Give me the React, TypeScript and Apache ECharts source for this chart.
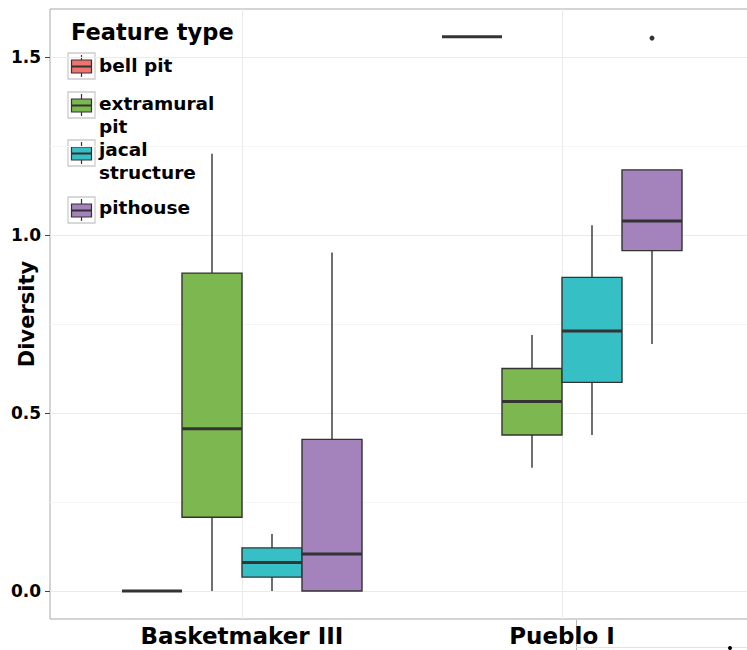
import React, { useEffect, useRef } from "react";
import * as echarts from "echarts";

// Eras on the x axis and feature types used for the dodged boxes
const eras = ["Basketmaker III", "Pueblo I"];
const features = ["bell pit", "extramural pit", "jacal structure", "pithouse"];
const legendLabels = ["bell pit", "extramural\npit", "jacal\nstructure", "pithouse"];
const colors = ["#f0736e", "#7db74f", "#37bfc6", "#a482bb"];

// Five-number summaries per era: [lower whisker, Q1, median, Q3, upper whisker]
const bellPit = [
  [0, 0, 0, 0, 0],
  [1.557, 1.557, 1.557, 1.557, 1.557],
];
const extramuralPit = [
  [0, 0.207, 0.456, 0.893, 1.228],
  [0.346, 0.438, 0.532, 0.625, 0.719],
];
const jacalStructure = [
  [0, 0.039, 0.08, 0.121, 0.16],
  [0.438, 0.586, 0.73, 0.881, 1.027],
];
const pithouse = [
  [0, 0, 0.104, 0.426, 0.951],
  [0.694, 0.956, 1.039, 1.183, 1.183],
];
// Outlying points per era for pithouse
const pithouseOutliers = [[], [1.553]];

const yTicks = [0, 0.5, 1, 1.5];
const yMinorTicks = [0.25, 0.75, 1.25];

const stats = [bellPit, extramuralPit, jacalStructure, pithouse];

const FONT = "DejaVu Sans";
const DODGE_WIDTH = 0.75;
const SLOT = DODGE_WIDTH / features.length;
const Y_MIN = -0.0787;
const Y_MAX = 1.6348;

function dodgeX(eraPos: number, k: number) {
  return eraPos - DODGE_WIDTH / 2 + SLOT * (k + 0.5);
}

function makeRenderItem(k: number) {
  return (params: any, api: any) => {
    const cx = dodgeX(api.value(0), k);
    const xl = api.coord([cx - SLOT / 2, 0])[0];
    const xr = api.coord([cx + SLOT / 2, 0])[0];
    const xc = api.coord([cx, 0])[0];
    const yMin = api.coord([cx, api.value(1)])[1];
    const yQ1 = api.coord([cx, api.value(2)])[1];
    const yMed = api.coord([cx, api.value(3)])[1];
    const yQ3 = api.coord([cx, api.value(4)])[1];
    const yMax = api.coord([cx, api.value(5)])[1];
    const edge = { stroke: "#333333", lineWidth: 1.4 };
    return {
      type: "group",
      children: [
        { type: "line", shape: { x1: xc, y1: yMax, x2: xc, y2: yQ3 }, style: edge },
        { type: "line", shape: { x1: xc, y1: yQ1, x2: xc, y2: yMin }, style: edge },
        {
          type: "rect",
          shape: { x: xl, y: yQ3, width: xr - xl, height: yQ1 - yQ3 },
          style: { fill: colors[k], ...edge },
        },
        {
          type: "line",
          shape: { x1: xl, y1: yMed, x2: xr, y2: yMed },
          style: { stroke: "#333333", lineWidth: 3 },
        },
      ],
    };
  };
}

// Legend drawn as graphic elements: small boxplot keys plus wrapped labels
const LEGEND_TEXT_TOP = [53.5, 91.5, 137.5, 195.5];
const LEGEND_KEY_TOP = [53, 92, 140, 197];

function legendGraphics() {
  const els: any[] = [
    {
      type: "text",
      x: 71,
      y: 32,
      z: 10,
      style: {
        text: "Feature type",
        fontFamily: FONT,
        fontWeight: "bold",
        fontSize: 22.5,
        fill: "#000",
        verticalAlign: "middle",
      },
    },
  ];
  features.forEach((f, k) => {
    els.push({
      type: "group",
      x: 68,
      y: LEGEND_KEY_TOP[k],
      z: 10,
      children: [
        {
          type: "rect",
          shape: { x: 0, y: 0, width: 27, height: 26 },
          style: { fill: "#ffffff", stroke: "#cccccc", lineWidth: 1.3 },
        },
        { type: "line", shape: { x1: 13.5, y1: 2, x2: 13.5, y2: 7 }, style: { stroke: "#333", lineWidth: 1.2 } },
        { type: "line", shape: { x1: 13.5, y1: 20, x2: 13.5, y2: 24 }, style: { stroke: "#333", lineWidth: 1.2 } },
        {
          type: "rect",
          shape: { x: 3.5, y: 7, width: 20, height: 13 },
          style: { fill: colors[k], stroke: "#333", lineWidth: 1.2 },
        },
        { type: "line", shape: { x1: 3.5, y1: 13.5, x2: 23.5, y2: 13.5 }, style: { stroke: "#333", lineWidth: 2 } },
      ],
    });
    els.push({
      type: "text",
      x: 99,
      y: LEGEND_TEXT_TOP[k],
      z: 10,
      style: {
        text: legendLabels[k],
        fontFamily: FONT,
        fontWeight: "bold",
        fontSize: 18.5,
        lineHeight: 23,
        fill: "#000",
        verticalAlign: "top",
      },
    });
  });
  // stray marks along the lower right edge
  els.push(
    { type: "line", shape: { x1: 576.5, y1: 620, x2: 576.5, y2: 650 }, style: { stroke: "#b5b5b5", lineWidth: 1 } },
    { type: "line", shape: { x1: 576, y1: 647.5, x2: 747, y2: 647.5 }, style: { stroke: "#e3e3e3", lineWidth: 1 } },
    { type: "circle", shape: { cx: 730, cy: 648, r: 2 }, style: { fill: "#000" } }
  );
  return els;
}

export default function App() {
  const ref = useRef<HTMLDivElement>(null);

  useEffect(() => {
    if (!ref.current) return;
    const chart = echarts.init(ref.current, undefined, { renderer: "svg" });

    const gridLines = [
      ...yTicks.map((v) => ({ yAxis: v, lineStyle: { color: "#ebebeb", width: 1, type: "solid" } })),
      ...yMinorTicks.map((v) => ({ yAxis: v, lineStyle: { color: "#f5f5f5", width: 1, type: "solid" } })),
      ...eras.map((_, i) => ({ xAxis: i + 1, lineStyle: { color: "#ebebeb", width: 1, type: "solid" } })),
    ];

    const boxSeries = features.map((name, k) => ({
      name,
      type: "custom",
      z: 5,
      renderItem: makeRenderItem(k),
      data: stats[k].map((s, i) => [i + 1, ...s]),
      encode: { x: 0, y: [1, 2, 3, 4, 5] },
      silent: true,
    }));

    const outlierData: number[][] = [];
    pithouseOutliers.forEach((vals, i) => {
      vals.forEach((v) => outlierData.push([dodgeX(i + 1, 3), v]));
    });

    chart.setOption({
      animation: false,
      backgroundColor: "#ffffff",
      grid: {
        left: 50,
        top: 9,
        bottom: 31,
        right: -7,
        containLabel: false,
        outerBoundsMode: "none",
        show: true,
        borderColor: "#a8a8a8",
        borderWidth: 1,
        backgroundColor: "#ffffff",
      },
      xAxis: {
        type: "value",
        min: 0.4,
        max: 2.6,
        axisLine: { show: false },
        splitLine: { show: false },
        axisTick: { show: true, customValues: [1, 2], length: 5, lineStyle: { color: "#444" } },
        axisLabel: {
          customValues: [1, 2],
          formatter: (v: number) => eras[Math.round(v) - 1] ?? "",
          fontFamily: FONT,
          fontWeight: "bold",
          fontSize: 23,
          color: "#000",
          margin: 5,
        },
      },
      yAxis: {
        type: "value",
        min: Y_MIN,
        max: Y_MAX,
        axisLine: { show: false },
        splitLine: { show: false },
        axisTick: { show: true, customValues: yTicks, length: 5, lineStyle: { color: "#444" } },
        axisLabel: {
          customValues: yTicks,
          formatter: (v: number) => v.toFixed(1),
          fontFamily: FONT,
          fontWeight: "bold",
          fontSize: 17,
          color: "#000",
          margin: 9,
        },
        name: "Diversity",
        nameLocation: "middle",
        nameRotate: 90,
        nameGap: 13,
        nameMoveOverlap: false,
        nameTextStyle: { fontFamily: FONT, fontWeight: "bold", fontSize: 21, color: "#000" },
      },
      series: [
        {
          type: "line",
          data: [],
          z: 1,
          silent: true,
          markLine: { z: 1, silent: true, symbol: "none", label: { show: false }, data: gridLines },
        },
        ...boxSeries,
        {
          type: "scatter",
          z: 6,
          data: outlierData,
          symbolSize: 5,
          clip: false,
          itemStyle: { color: "#000" },
          silent: true,
        },
      ],
      graphic: legendGraphics(),
    });

    return () => chart.dispose();
  }, []);

  return (
    <div
      ref={ref}
      style={{ position: "absolute", left: 0, top: 0, width: 747, height: 650 }}
    />
  );
}
